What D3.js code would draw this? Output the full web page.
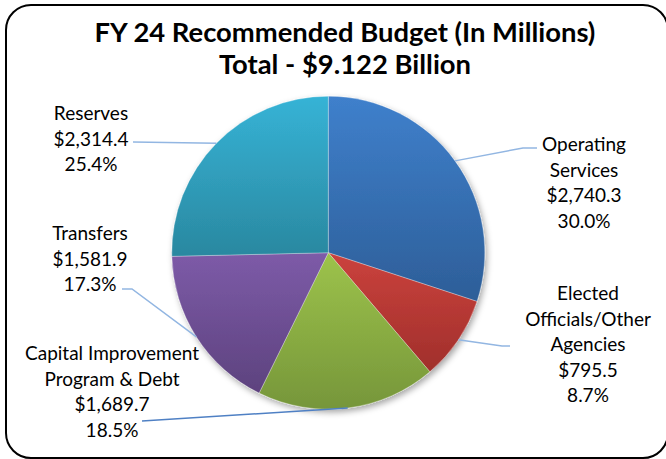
<!DOCTYPE html>
<html>
<head>
<meta charset="utf-8">
<script src="https://cdn.jsdelivr.net/npm/d3@7"></script>
<style>
  html, body { margin: 0; padding: 0; background: #fff; }
  svg { display: block; }
</style>
</head>
<body>
<svg id="chart" width="666" height="459"></svg>
<script>
// FY 24 recommended budget, in millions of dollars
const categories = ["Operating Services", "Elected Officials/Other Agencies", "Capital Improvement Program & Debt", "Transfers", "Reserves"];
const amounts = [2740.3, 795.5, 1689.7, 1581.9, 2314.4];
const labelNames = [["Operating", "Services"], ["Elected", "Officials/Other", "Agencies"], ["Capital Improvement", "Program & Debt"], ["Transfers"], ["Reserves"]];
const titleLines = ["FY 24 Recommended Budget (In Millions)", "Total - $9.122 Billion"];

// slice gradients (top colour, bottom colour)
const sliceColors = [
  ["#3f80cc", "#2d5e98"],
  ["#cb423d", "#a02f2b"],
  ["#9dc34b", "#76963a"],
  ["#7d5ba8", "#5d427e"],
  ["#36b3d6", "#2a88a0"]
];

// label placement: x centre, first baseline, leader elbow/end points
const labelLayout = [
  { x: 584, y: 151, elbow: [523, 148], end: [537, 148], line: "#92b6e2" },
  { x: 588, y: 300, elbow: [502, 346], end: [510, 346], line: "#92b6e2" },
  { x: 112, y: 360, elbow: null, end: [142, 421], line: "#4f80c4" },
  { x: 90, y: 240, elbow: [132, 289], end: [122, 289], line: "#92b6e2" },
  { x: 91, y: 120, elbow: null, end: [133, 142], line: "#92b6e2" }
];

const W = 666, H = 459;
const cx = 328.3, cy = 252.7, R = 156.5;
const lineStep = 25.5;

const svg = d3.select("#chart");
const defs = svg.append("defs");

sliceColors.forEach((c, i) => {
  const g = defs.append("linearGradient")
    .attr("id", "grad" + i)
    .attr("x1", 0).attr("y1", 0).attr("x2", 0).attr("y2", 1);
  g.append("stop").attr("offset", "0%").attr("stop-color", c[0]);
  g.append("stop").attr("offset", "100%").attr("stop-color", c[1]);
});

const shadow = defs.append("filter").attr("id", "pieShadow")
  .attr("x", "-10%").attr("y", "-10%").attr("width", "130%").attr("height", "130%");
shadow.append("feDropShadow")
  .attr("dx", 2).attr("dy", 3).attr("stdDeviation", 3)
  .attr("flood-color", "#000").attr("flood-opacity", 0.35);

// outer frame
svg.append("rect")
  .attr("x", 6).attr("y", 5)
  .attr("width", 662).attr("height", 453)
  .attr("rx", 25).attr("ry", 25)
  .attr("fill", "#fff")
  .attr("stroke", "#000")
  .attr("stroke-width", 2);

// title
const title = svg.append("g").attr("font-family", "Lato, 'Open Sans', sans-serif")
  .attr("font-weight", "bold").attr("fill", "#000").attr("text-anchor", "middle");
title.append("text").attr("x", 345).attr("y", 42).attr("font-size", 26).text(titleLines[0]);
title.append("text").attr("x", 345).attr("y", 74).attr("font-size", 26).text(titleLines[1]);
// fit first line to its width
(function fitTitle() {
  const t = title.select("text").node();
  const w = t.getComputedTextLength();
  const s = 26 * 501 / w;
  title.selectAll("text").attr("font-size", s);
})();

// pie
const pie = d3.pie().sort(null).value(d => d).startAngle(0).endAngle(2 * Math.PI);
const arcs = pie(amounts);
const arc = d3.arc().innerRadius(0).outerRadius(R);

const pieG = svg.append("g")
  .attr("transform", `translate(${cx},${cy})`)
  .attr("filter", "url(#pieShadow)");

pieG.selectAll("path.slice")
  .data(arcs)
  .join("path")
  .attr("class", "slice")
  .attr("d", arc)
  .attr("fill", (d, i) => `url(#grad${i})`)
  .attr("stroke", "rgba(255,255,255,0.5)")
  .attr("stroke-width", 0.6);

// leader lines from slice edge (mid angle) to label
const total = d3.sum(amounts);
arcs.forEach((d, i) => {
  const a = (d.startAngle + d.endAngle) / 2;
  const px = cx + R * Math.sin(a);
  const py = cy - R * Math.cos(a);
  const L = labelLayout[i];
  const pts = [[px, py]];
  if (L.elbow) pts.push(L.elbow);
  pts.push(L.end);
  svg.append("path")
    .attr("d", d3.line()(pts))
    .attr("fill", "none")
    .attr("stroke", L.line)
    .attr("stroke-width", 1.5);
});

// data labels
const money = d3.format(",.1f");
const pct = d3.format(".1%");
const labels = svg.append("g")
  .attr("font-family", "Lato, 'Open Sans', sans-serif")
  .attr("font-size", 19)
  .attr("fill", "#000")
  .attr("text-anchor", "middle");

amounts.forEach((v, i) => {
  const L = labelLayout[i];
  const lines = labelNames[i].concat(["$" + money(v), pct(v / total)]);
  lines.forEach((s, k) => {
    labels.append("text")
      .attr("x", L.x)
      .attr("y", L.y + k * lineStep)
      .text(s);
  });
});
</script>
</body>
</html>
